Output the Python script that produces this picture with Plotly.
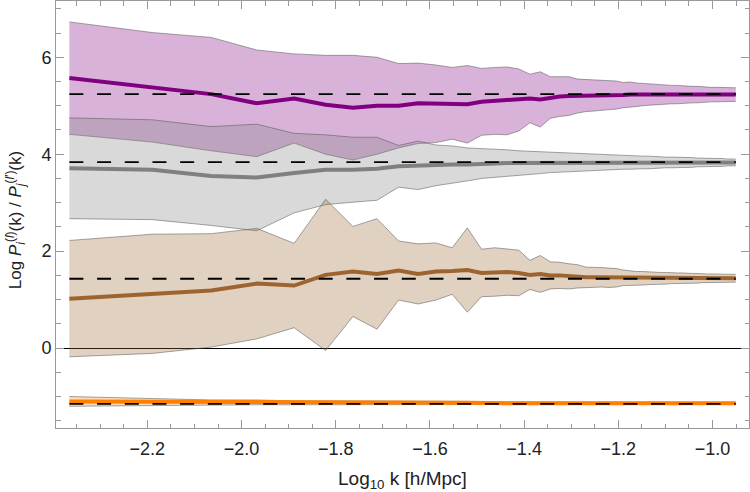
import plotly.graph_objects as go

# log10 k sample positions
log10_k = [-2.3656, -2.1895, -2.0645, -1.9676, -1.8884, -1.8215, -1.7635, -1.7124, -1.6666,
           -1.6252, -1.5874, -1.5527, -1.5205, -1.4905, -1.4625, -1.4362, -1.4113, -1.3878,
           -1.3656, -1.3444, -1.3242, -1.3049, -1.2864, -1.2687, -1.2516, -1.2352, -1.2194,
           -1.2042, -1.1895, -1.1752, -1.1615, -1.1481, -1.1351, -1.1225, -1.1103, -1.0984,
           -1.0868, -1.0755, -1.0645, -1.0538, -1.0434, -1.0331, -1.0232, -1.0134, -1.0038,
           -0.9945, -0.9854, -0.9764, -0.9676, -0.9590, -0.9506]

purple_mean = [5.57, 5.38, 5.24, 5.05, 5.15, 5.02, 4.96, 5.00, 5.00, 5.05, 5.04, 5.05, 5.03,
               5.08, 5.10, 5.10, 5.12, 5.15, 5.13, 5.17, 5.19, 5.20, 5.20, 5.21, 5.21, 5.22,
               5.22, 5.22, 5.22, 5.23, 5.23, 5.23, 5.23, 5.23, 5.23, 5.23, 5.23, 5.23, 5.23,
               5.23, 5.23, 5.23, 5.23, 5.23, 5.23, 5.23, 5.23, 5.23, 5.23, 5.23, 5.23]
purple_sigma = [1.16, 1.13, 1.17, 1.10, 0.92, 1.02, 1.08, 1.00, 0.87, 0.83, 0.80, 0.74, 0.80,
                0.69, 0.69, 0.70, 0.64, 0.50, 0.57, 0.43, 0.41, 0.40, 0.35, 0.33, 0.32, 0.31,
                0.30, 0.29, 0.26, 0.26, 0.24, 0.23, 0.22, 0.21, 0.20, 0.20, 0.19, 0.19, 0.18,
                0.17, 0.17, 0.17, 0.16, 0.16, 0.15, 0.15, 0.15, 0.14, 0.14, 0.14, 0.14]

gray_mean = [3.71, 3.68, 3.55, 3.52, 3.61, 3.68, 3.68, 3.70, 3.75, 3.77, 3.77, 3.79, 3.79,
             3.81, 3.81, 3.82, 3.82, 3.82, 3.82, 3.83, 3.83, 3.83, 3.83, 3.83, 3.83, 3.83,
             3.83, 3.83, 3.83, 3.83, 3.83, 3.83, 3.83, 3.83, 3.83, 3.83, 3.83, 3.83, 3.83,
             3.83, 3.83, 3.83, 3.83, 3.83, 3.83, 3.83, 3.83, 3.83, 3.83, 3.83, 3.83]
gray_sigma = [1.04, 1.03, 1.02, 1.10, 0.82, 0.72, 0.67, 0.65, 0.43, 0.50, 0.42, 0.38, 0.34,
              0.31, 0.29, 0.27, 0.25, 0.24, 0.22, 0.21, 0.20, 0.19, 0.18, 0.17, 0.17, 0.16,
              0.16, 0.15, 0.14, 0.14, 0.13, 0.13, 0.13, 0.12, 0.12, 0.11, 0.11, 0.11, 0.10,
              0.10, 0.10, 0.09, 0.09, 0.09, 0.08, 0.08, 0.08, 0.08, 0.07, 0.07, 0.07]

brown_mean = [1.02, 1.12, 1.19, 1.33, 1.29, 1.51, 1.58, 1.53, 1.60, 1.53, 1.58, 1.59, 1.61,
              1.55, 1.57, 1.57, 1.55, 1.51, 1.53, 1.50, 1.50, 1.48, 1.48, 1.46, 1.46, 1.46,
              1.45, 1.45, 1.45, 1.44, 1.44, 1.44, 1.44, 1.44, 1.44, 1.44, 1.44, 1.44, 1.44,
              1.44, 1.44, 1.44, 1.44, 1.44, 1.44, 1.44, 1.44, 1.44, 1.44, 1.44, 1.44]
brown_sigma = [1.20, 1.23, 1.17, 1.14, 0.87, 1.56, 0.93, 1.14, 0.61, 0.62, 0.59, 0.48, 0.87,
               0.49, 0.50, 0.48, 0.47, 0.30, 0.38, 0.28, 0.27, 0.26, 0.24, 0.21, 0.21, 0.20,
               0.20, 0.19, 0.16, 0.15, 0.14, 0.14, 0.13, 0.13, 0.12, 0.12, 0.11, 0.11, 0.11,
               0.10, 0.10, 0.10, 0.09, 0.09, 0.09, 0.09, 0.08, 0.08, 0.08, 0.08, 0.08]

orange_mean = [-1.10, -1.11, -1.12, -1.12, -1.13, -1.13, -1.13, -1.13, -1.13, -1.13, -1.13,
               -1.13, -1.13, -1.14, -1.14, -1.14, -1.14, -1.14, -1.14, -1.14, -1.14, -1.14,
               -1.14, -1.14, -1.14, -1.14, -1.14, -1.14, -1.14, -1.14, -1.14, -1.14, -1.14,
               -1.14, -1.14, -1.14, -1.14, -1.14, -1.14, -1.14, -1.14, -1.14, -1.14, -1.14,
               -1.14, -1.14, -1.14, -1.14, -1.14, -1.14, -1.14]
orange_sigma = [0.10, 0.07, 0.05, 0.05, 0.04, 0.04, 0.04, 0.04, 0.03, 0.03, 0.03, 0.03, 0.03,
                0.03, 0.03, 0.03, 0.02, 0.02, 0.02, 0.02, 0.02, 0.02, 0.02, 0.02, 0.02, 0.02,
                0.02, 0.02, 0.02, 0.02, 0.02, 0.02, 0.02, 0.02, 0.02, 0.02, 0.02, 0.02, 0.02,
                0.02, 0.02, 0.02, 0.02, 0.02, 0.02, 0.02, 0.02, 0.02, 0.02, 0.02, 0.02]

# reference (dashed) levels
reference_levels = [5.24, 3.835, 1.43, -1.15]

series = [
    (purple_mean, purple_sigma, "rgb(128,0,128)", "rgba(128,0,128,0.3)"),
    (gray_mean, gray_sigma, "rgb(128,128,128)", "rgba(128,128,128,0.3)"),
    (brown_mean, brown_sigma, "rgb(158,100,48)", "rgba(153,102,51,0.3)"),
    (orange_mean, orange_sigma, "rgb(255,128,0)", "rgba(255,128,0,0.3)"),
]

edge = dict(color="rgba(85,85,85,0.75)", width=0.7)

fig = go.Figure()
for mean, sig, lc, fc in series:
    lo = [m - s for m, s in zip(mean, sig)]
    hi = [m + s for m, s in zip(mean, sig)]
    fig.add_trace(go.Scatter(x=log10_k, y=lo, mode="lines", line=edge,
                             showlegend=False, hoverinfo="skip"))
    fig.add_trace(go.Scatter(x=log10_k, y=hi, mode="lines", line=edge, fill="tonexty",
                             fillcolor=fc, showlegend=False, hoverinfo="skip"))

for mean, sig, lc, fc in series:
    fig.add_trace(go.Scatter(x=log10_k, y=mean, mode="lines", line=dict(color=lc, width=4),
                             showlegend=False))

for lvl in reference_levels:
    fig.add_trace(go.Scatter(x=[log10_k[0], log10_k[-1]], y=[lvl, lvl], mode="lines",
                             line=dict(color="black", width=1.8, dash="14px,13.7px"),
                             showlegend=False))

axis_common = dict(
    showgrid=False, showline=True, linecolor="#999", linewidth=1, mirror="ticks",
    ticks="inside", ticklen=8, tickcolor="#999", tickwidth=1,
    tickfont=dict(family="Liberation Sans, Arial", size=18, color="#222"),
)

fig.update_xaxes(range=[-2.394, -0.9225], dtick=0.2, tick0=0, tickformat=".1f",
                 zeroline=False, ticklabelstandoff=4,
                 minor=dict(ticks="inside", ticklen=4.5, dtick=0.05, tick0=0,
                            tickcolor="#999", showgrid=False),
                 **axis_common)
fig.update_yaxes(range=[-1.649, 7.161], dtick=2, tick0=0,
                 zeroline=True, zerolinecolor="black", zerolinewidth=1,
                 minor=dict(ticks="inside", ticklen=4.5, dtick=0.5, tick0=0,
                            tickcolor="#999", showgrid=False),
                 **axis_common)

fig.add_annotation(text="Log<sub>10</sub> k [h/Mpc]", xref="paper", yref="paper",
                   x=0.5, y=-0.121, xanchor="center", yanchor="middle", showarrow=False,
                   font=dict(family="Liberation Sans, Arial", size=19, color="#222"))
fig.add_annotation(text="Log <i>P</i><sub><i>i</i></sub><sup>(<i>l</i>)</sup>(k) / "
                        "<i>P</i><sub><i>j</i></sub><sup>(<i>l</i>′)</sup>(k)",
                   xref="paper", yref="paper", x=-0.059, y=0.487, textangle=-90,
                   xanchor="center", yanchor="middle", showarrow=False,
                   font=dict(family="Liberation Sans, Arial", size=17, color="#222"))

fig.update_layout(width=750, height=492, margin=dict(l=56, r=1, t=1, b=64),
                  plot_bgcolor="white", paper_bgcolor="white")

fig.write_html("out.html")
